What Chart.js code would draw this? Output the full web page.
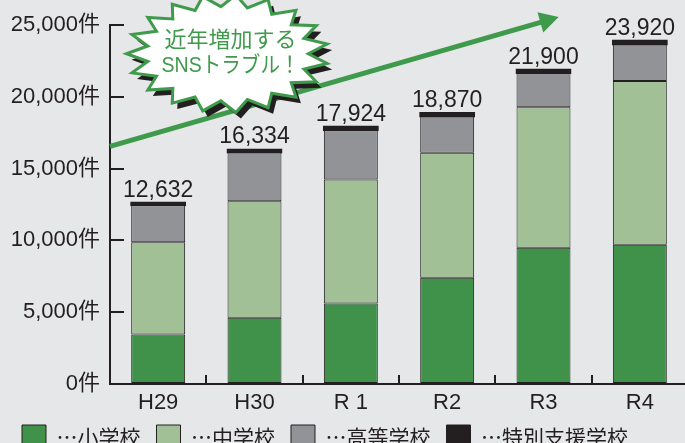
<!DOCTYPE html>
<html lang="ja">
<head>
<meta charset="utf-8">
<script src="https://cdn.jsdelivr.net/npm/chart.js@4.4.1/dist/chart.umd.min.js"></script>
<style>
  html, body { margin: 0; padding: 0; background: #e6e7e9; overflow: hidden; }
  #wrap { width: 685px; height: 443px; overflow: hidden; position: relative; }
  #wrap canvas { position: absolute; left: 0; top: 0; }
</style>
</head>
<body>
<div id="wrap"><canvas id="chart" width="688" height="459"></canvas></div>
<script>
const years = ['H29', 'H30', 'R 1', 'R2', 'R3', 'R4'];
const elementary = [3455, 4606, 5608, 7407, 9490, 9700];
const juniorHigh = [6411, 8128, 8629, 8691, 9783, 11400];
const highSchool = [2576, 3387, 3437, 2535, 2376, 2550];
const specialNeeds = [190, 213, 250, 237, 251, 270];
const seriesNames = ['…小学校', '…中学校', '…高等学校', '…特別支援学校'];
const calloutLines = ['近年増加する', 'SNSトラブル！'];

// arrow + callout anchored in data space (category index, count)
const arrowFrom = { x: -0.5, y: 16550 };
const arrowTo = { x: 4.157, y: 25550 };
const calloutAt = { x: 0.72, y: 23000 };

const FONT = '"Liberation Sans", "Noto Sans CJK JP", sans-serif';
const JP_FONT = '"Noto Sans CJK JP", "Liberation Sans", sans-serif';
const INK = '#231f20';
const GREEN = '#3f9a4b';

function starPath(ctx, cx, cy, rx, ry, points, inner) {
  ctx.beginPath();
  for (let i = 0; i < points * 2; i += 1) {
    const a = Math.PI + (i * Math.PI) / points;
    const k = i % 2 === 0 ? 1 : inner;
    ctx.lineTo(cx + Math.cos(a) * rx * k, cy + Math.sin(a) * ry * k);
  }
  ctx.closePath();
}

const annotations = {
  id: 'annotations',
  afterDatasetsDraw(chart) {
    const { ctx, scales: { x, y } } = chart;
    ctx.save();

    // trend arrow
    const x0 = x.getPixelForValue(arrowFrom.x);
    const y0 = y.getPixelForValue(arrowFrom.y);
    const x1 = x.getPixelForValue(arrowTo.x);
    const y1 = y.getPixelForValue(arrowTo.y);
    const ang = Math.atan2(y1 - y0, x1 - x0);
    const headLen = 19;
    const headHalf = 10.5;
    const bx = x1 - Math.cos(ang) * headLen;
    const by = y1 - Math.sin(ang) * headLen;
    ctx.strokeStyle = GREEN;
    ctx.lineWidth = 5;
    ctx.beginPath();
    ctx.moveTo(x0, y0);
    ctx.lineTo(bx + Math.cos(ang) * 2, by + Math.sin(ang) * 2);
    ctx.stroke();
    ctx.fillStyle = GREEN;
    ctx.beginPath();
    ctx.moveTo(x1, y1);
    ctx.lineTo(bx + Math.sin(ang) * headHalf, by - Math.cos(ang) * headHalf);
    ctx.lineTo(bx - Math.sin(ang) * headHalf, by + Math.cos(ang) * headHalf);
    ctx.closePath();
    ctx.fill();

    // starburst callout
    const cx = x.getPixelForValue(calloutAt.x);
    const cy = y.getPixelForValue(calloutAt.y);
    ctx.fillStyle = INK;
    starPath(ctx, cx + 5, cy + 6, 101, 59, 19, 0.8);
    ctx.fill();
    starPath(ctx, cx, cy, 101, 59, 19, 0.8);
    ctx.fillStyle = '#ffffff';
    ctx.fill();
    ctx.lineWidth = 3;
    ctx.lineJoin = 'miter';
    ctx.strokeStyle = GREEN;
    ctx.stroke();

    ctx.fillStyle = GREEN;
    ctx.textAlign = 'center';
    ctx.textBaseline = 'middle';
    ctx.font = `22px ${FONT}`;
    ctx.fillText(calloutLines[0], cx + 3, cy - 13, 132);
    ctx.fillText(calloutLines[1], cx + 3, cy + 12, 138);
    ctx.restore();
  },
};

const totalLabels = {
  id: 'totalLabels',
  afterDatasetsDraw(chart) {
    const { ctx } = chart;
    const capMeta = chart.getDatasetMeta(chart.data.datasets.length - 1);
    ctx.save();
    ctx.font = `23px ${FONT}`;
    ctx.fillStyle = INK;
    ctx.textAlign = 'center';
    ctx.textBaseline = 'alphabetic';
    capMeta.data.forEach((bar, i) => {
      const total = chart.data.datasets.reduce((sum, ds) => sum + ds.data[i], 0);
      ctx.fillText(total.toLocaleString('en-US'), bar.x, bar.y - 6);
    });
    ctx.restore();
  },
};

new Chart(document.getElementById('chart'), {
  type: 'bar',
  data: {
    labels: years,
    datasets: [
      { label: seriesNames[0], data: elementary, backgroundColor: '#40924a' },
      { label: seriesNames[1], data: juniorHigh, backgroundColor: '#a2c096' },
      { label: seriesNames[2], data: highSchool, backgroundColor: '#929397' },
      {
        label: seriesNames[3], data: specialNeeds, backgroundColor: INK, inflateAmount: 1,
      },
    ],
  },
  options: {
    responsive: false,
    animation: false,
    layout: {
      padding: {
        top: 25, left: 6, right: 0, bottom: 0,
      },
    },
    datasets: {
      bar: {
        categoryPercentage: 1,
        barPercentage: 0.56,
        borderWidth: 1,
        borderColor: INK,
        borderSkipped: false,
      },
    },
    plugins: {
      legend: {
        position: 'bottom',
        align: 'start',
        labels: {
          font: { family: JP_FONT, size: 21 },
          color: INK,
          boxWidth: 24,
          boxHeight: 24,
          padding: 16,
        },
      },
      tooltip: { enabled: false },
    },
    scales: {
      x: {
        stacked: true,
        grid: {
          offset: true, drawOnChartArea: false, tickLength: -9, lineWidth: 2, color: INK,
        },
        border: { color: INK, width: 2 },
        ticks: { font: { family: FONT, size: 22 }, color: INK, padding: 15 },
        afterFit: (scale) => { scale.height = 25; },
      },
      y: {
        stacked: true,
        min: 0,
        max: 25000,
        grid: {
          drawOnChartArea: false, tickLength: -14, lineWidth: 2, color: INK,
        },
        border: { color: INK, width: 2 },
        ticks: {
          stepSize: 5000,
          padding: 24,
          font: { family: FONT, size: 22 },
          color: INK,
          callback: (value) => `${value.toLocaleString('en-US')}件`,
        },
        afterFit: (scale) => {
          scale.width = 104;
          scale.paddingTop = 0;
          scale.paddingBottom = 0;
        },
      },
    },
  },
  plugins: [annotations, totalLabels],
});
</script>
</body>
</html>
